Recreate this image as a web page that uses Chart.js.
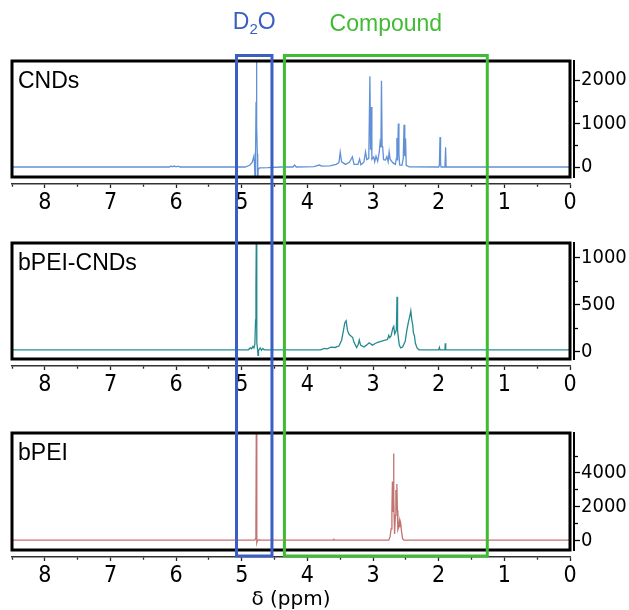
<!DOCTYPE html>
<html><head><meta charset="utf-8">
<script src="https://cdn.jsdelivr.net/npm/chart.js@4.4.1/dist/chart.umd.min.js"></script>
<style>
html,body{margin:0;padding:0;background:#fff;}
body{width:629px;height:610px;position:relative;overflow:hidden;}
.pc{position:absolute;left:0;width:629px;}
.pc canvas{display:block;}
#overlay{position:absolute;left:0;top:0;pointer-events:none;z-index:5;}
.lbl{position:absolute;font-family:'Liberation Sans',Arial,sans-serif;font-size:23px;line-height:1;transform:translate(-50%,-50%);white-space:nowrap;z-index:6;}
.lbl sub{font-size:15px;vertical-align:-5px;line-height:1;}
</style></head><body>
<div class="pc" style="top:0;"><canvas id="c1" width="629" height="224"></canvas></div>
<div class="pc" style="top:230px;"><canvas id="c2" width="629" height="176"></canvas></div>
<div class="pc" style="top:420px;"><canvas id="c3" width="629" height="190"></canvas></div>
<canvas id="overlay" width="629" height="610"></canvas>
<div class="lbl" id="tD2O" style="color:#3a5ec4;">D<sub>2</sub>O</div>
<div class="lbl" id="tComp" style="color:#42bb34;">Compound</div>
<script>
// ---------- data (ppm, intensity) ----------
const panelLabels = ['CNDs', 'bPEI-CNDs', 'bPEI'];
const xTicks = [8.5, 8, 7.5, 7, 6.5, 6, 5.5, 5, 4.5, 4, 3.5, 3, 2.5, 2, 1.5, 1, 0.5, 0];
const xTickLabels = [8, 7, 6, 5, 4, 3, 2, 1, 0];

const cndsPpm = [8.5,6.10,6.08,6.06,6.03,6.00,5.97,5.94,4.95,4.88,4.84,4.815,4.805,4.797,4.79,4.782,4.778,4.774,4.768,4.763,4.757,4.75,4.73,4.60,4.40,4.22,4.195,4.17,3.90,3.82,3.78,3.66,3.56,3.52,3.50,3.48,3.42,3.36,3.315,3.29,3.23,3.205,3.185,3.14,3.115,3.095,3.065,3.048,3.038,3.028,3.018,2.99,2.975,2.955,2.93,2.905,2.893,2.880,2.872,2.862,2.853,2.84,2.81,2.79,2.77,2.755,2.74,2.70,2.66,2.645,2.637,2.627,2.615,2.606,2.595,2.56,2.54,2.528,2.517,2.505,2.495,2.45,2.00,1.99,1.98,1.972,1.965,1.905,1.895,1.887,0];
const cndsVal = [0,0,22,5,22,5,20,0,0,40,110,250,60,-400,300,1500,2420,1200,950,300,-400,-60,-20,-15,0,0,45,0,10,45,20,25,60,100,340,120,60,110,235,60,60,185,50,110,350,170,200,2090,400,1380,180,230,120,250,130,350,560,450,1985,480,450,170,160,240,120,350,180,100,60,200,670,150,1000,300,50,40,200,970,250,660,40,5,0,40,690,100,0,0,455,0,0];

const bpeiCndsPpm = [8.5,4.90,4.87,4.85,4.83,4.815,4.800,4.790,4.784,4.779,4.774,4.768,4.76,4.752,4.745,4.72,4.70,4.68,4.66,3.80,3.74,3.70,3.64,3.58,3.52,3.48,3.45,3.43,3.41,3.39,3.37,3.35,3.31,3.29,3.25,3.225,3.21,3.19,3.14,3.10,3.06,3.01,2.96,2.93,2.88,2.83,2.78,2.76,2.745,2.725,2.70,2.685,2.67,2.645,2.635,2.627,2.615,2.60,2.58,2.55,2.51,2.485,2.46,2.44,2.425,2.41,2.395,2.385,2.37,2.355,2.33,2.30,2.00,1.99,1.98,1.905,1.90,1.893,0];
const bpeiCndsVal = [20,20,40,30,55,40,80,340,700,1160,500,100,30,-40,10,40,15,35,20,20,36,30,48,45,60,120,230,310,330,230,190,175,150,100,45,80,125,70,50,70,95,70,90,100,110,120,130,175,150,170,250,270,190,230,585,230,150,70,40,50,110,230,320,380,435,340,280,200,170,90,40,20,20,45,20,20,90,20,20];

const bpeiPpm = [8.5,4.85,4.80,4.785,4.779,4.774,4.768,4.76,4.74,4.70,3.61,3.595,3.58,2.76,2.74,2.725,2.713,2.705,2.700,2.693,2.688,2.682,2.672,2.66,2.652,2.645,2.637,2.63,2.622,2.61,2.598,2.59,2.58,2.565,2.55,2.53,0];
const bpeiVal = [30,30,40,150,6300,400,-120,30,40,30,30,80,30,30,250,700,1800,3500,1700,3000,5150,2500,400,1500,3000,1800,3350,1800,650,800,1150,800,1050,500,120,30,30];

// y ranges / ticks per panel
const yRanges = [[-230, 2440], [-78, 1160], [-550, 6360]];
const yTicks = [[0, 500, 1000, 1500, 2000], [0, 250, 500, 750, 1000], [0, 1000, 2000, 3000, 4000, 5000]];
const yTickLabels = [[0, 1000, 2000], [0, 500, 1000], [0, 2000, 4000]];
const d2oBox = [5.08, 4.54];
const compoundBox = [4.35, 1.26];
const colors = ['#6190d6', '#268b91', '#c07371'];

// ---------- charts ----------
const tickFamily = "'DejaVu Sans Condensed', 'DejaVu Sans', sans-serif";
const framePlugin = {
  id: 'panelFrame',
  afterDatasetsDraw(chart, args, opts) {
    const {ctx, chartArea: a} = chart;
    ctx.save();
    ctx.strokeStyle = '#000';
    ctx.lineWidth = 3;
    ctx.strokeRect(a.left, a.top, a.right - a.left, a.bottom - a.top);
    ctx.fillStyle = '#000';
    ctx.font = "23px 'Liberation Sans', Arial, sans-serif";
    ctx.textBaseline = 'middle';
    ctx.textAlign = 'left';
    ctx.fillText(opts.label, a.left + 6, a.top + 21);
    ctx.restore();
  }
};

function makePanel(id, idx, ppm, val, padTop, xHeight, showTitle) {
  const pts = ppm.map((p, i) => ({x: p, y: val[i]}));
  const isMajorX = v => xTickLabels.some(t => Math.abs(t - v) < 1e-9);
  const isMajorY = v => yTickLabels[idx].includes(v);
  return new Chart(document.getElementById(id), {
    type: 'scatter',
    data: {datasets: [{data: pts, showLine: true, borderColor: colors[idx], borderWidth: 1.3, pointRadius: 0, tension: 0}]},
    options: {
      responsive: false, animation: false, events: [],
      layout: {padding: {top: padTop, left: 12, right: 0, bottom: 0}},
      plugins: {legend: {display: false}, tooltip: {enabled: false}, panelFrame: {label: panelLabels[idx]}},
      scales: {
        x: {
          type: 'linear', position: 'bottom', reverse: true, min: 0, max: 8.5, weight: 2,
          afterBuildTicks: s => { s.ticks = xTicks.map(v => ({value: v})); },
          ticks: {autoSkip: false, maxRotation: 0, padding: 1, color: '#000',
            font: {family: tickFamily, size: 23},
            callback: v => isMajorX(v) ? String(v) : ''},
          grid: {drawOnChartArea: false, drawTicks: true, tickLength: 4, tickColor: '#222', tickWidth: 1.3,
            tickBorderDash: c => (c.tick && isMajorX(c.tick.value)) ? [] : [2.2, 30]},
          border: {display: true, color: '#333', width: 1.5},
          title: {display: showTitle, text: 'δ (ppm)', color: '#000', padding: {top: 0, bottom: 0},
            font: {family: "'DejaVu Sans', sans-serif", size: 20, lineHeight: 1.0}},
          afterFit: s => { s.height = xHeight; }
        },
        xpad: {type: 'linear', position: 'bottom', weight: 0, display: true,
          grid: {display: false}, ticks: {display: false}, border: {display: false},
          afterFit: s => { s.height = 7; }},
        y: {
          type: 'linear', position: 'right', min: yRanges[idx][0], max: yRanges[idx][1], weight: 2,
          afterBuildTicks: s => { s.ticks = yTicks[idx].map(v => ({value: v})); },
          ticks: {autoSkip: false, padding: 1, color: '#000',
            font: {family: tickFamily, size: 20},
            callback: v => isMajorY(v) ? String(v) : ''},
          grid: {drawOnChartArea: false, drawTicks: true, tickLength: 6, tickColor: '#000', tickWidth: 1.3,
            tickBorderDash: c => (c.tick && isMajorY(c.tick.value)) ? [] : [3, 30]},
          border: {display: true, color: '#000', width: 2},
          afterFit: s => { s.width = 55; }
        },
        ypad: {type: 'linear', position: 'right', weight: 0, display: true,
          grid: {display: false}, ticks: {display: false}, border: {display: false},
          afterFit: s => { s.width = 4; }}
      }
    },
    plugins: [framePlugin]
  });
}

const ch1 = makePanel('c1', 0, cndsPpm, cndsVal, 61, 40, false);
const ch2 = makePanel('c2', 1, bpeiCndsPpm, bpeiCndsVal, 13, 40, false);
const ch3 = makePanel('c3', 2, bpeiPpm, bpeiVal, 13, 53, true);

// ---------- overlay boxes ----------
function drawOverlay() {
  const xs = ch3.scales.x;
  const ov = document.getElementById('overlay');
  const ctx = ov.getContext('2d');
  ctx.clearRect(0, 0, ov.width, ov.height);
  ctx.lineWidth = 3;
  const top = 55.5, bottom = 556;
  const boxes = [[d2oBox, '#3a5ec4', 'tD2O'], [compoundBox, '#42bb34', 'tComp']];
  boxes.forEach(([b, col, tid]) => {
    const x1 = xs.getPixelForValue(b[0]);
    const x2 = xs.getPixelForValue(b[1]);
    ctx.strokeStyle = col;
    ctx.strokeRect(x1, top, x2 - x1, bottom - top);
    const t = document.getElementById(tid);
    t.style.left = ((x1 + x2) / 2) + 'px';
    t.style.top = '23px';
  });
}
drawOverlay();
</script>
</body></html>
